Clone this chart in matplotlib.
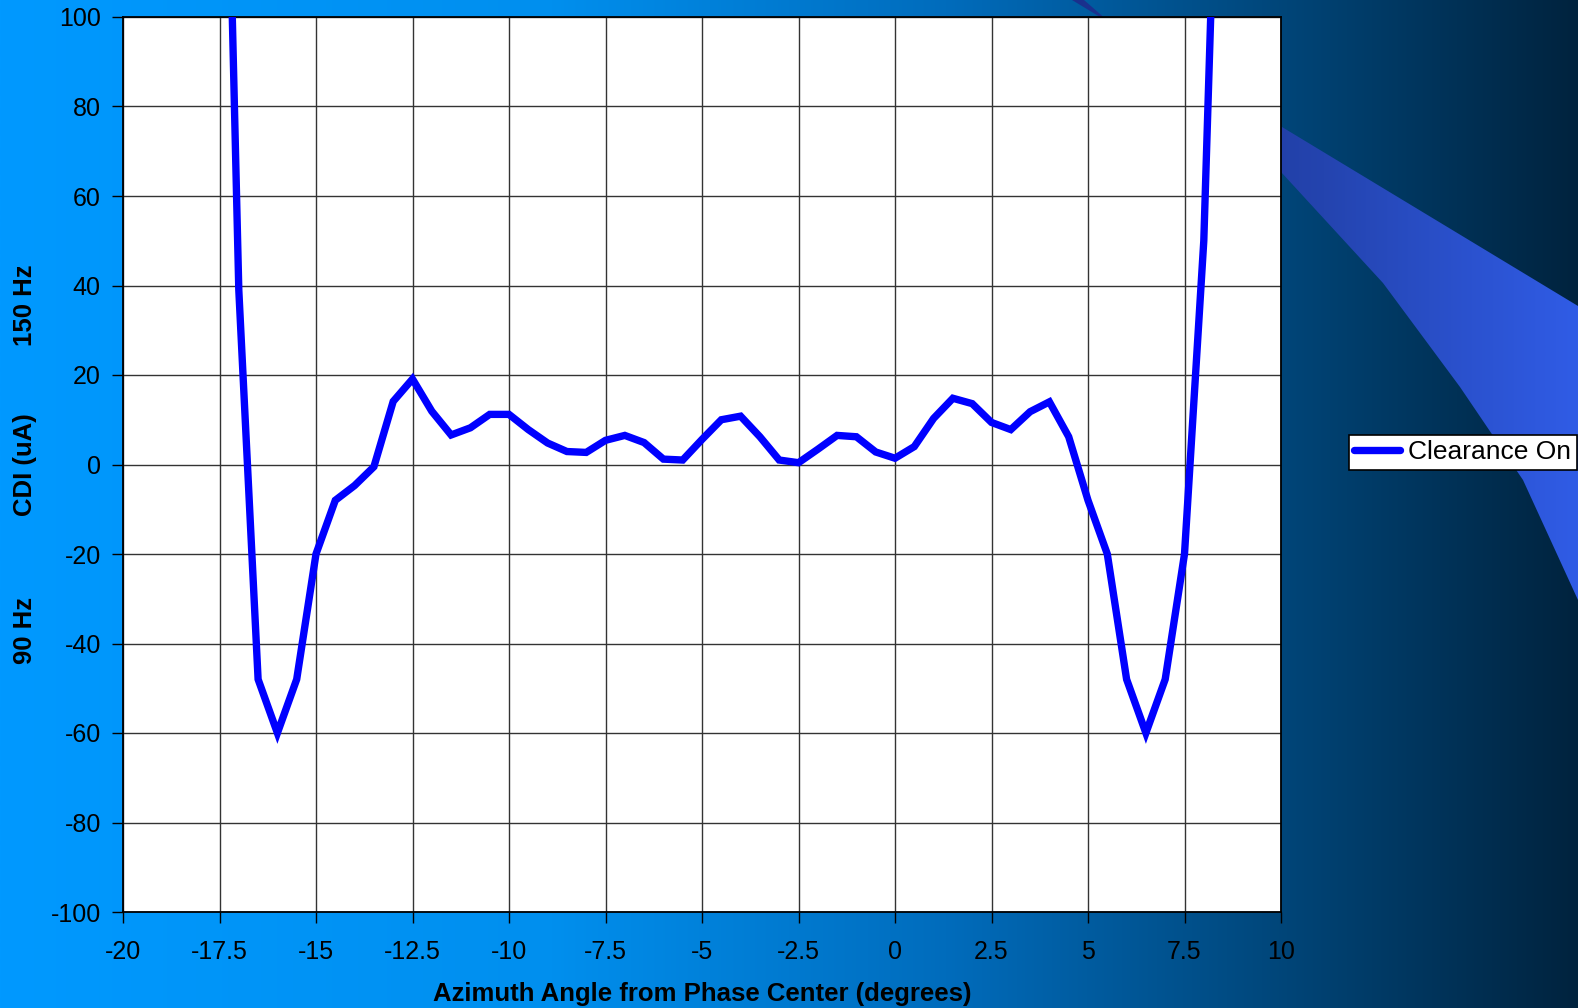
import numpy as np
import matplotlib
matplotlib.use("Agg")
import matplotlib.pyplot as plt
from matplotlib.patches import Polygon

plt.rcParams['font.family'] = ['Liberation Sans', 'DejaVu Sans']
plt.rcParams['axes.unicode_minus'] = False

# Datos (angulo en grados, CDI en uA)
angulo = [-17.5, -17.0, -16.5, -16.0, -15.5, -15.0, -14.5, -14.0, -13.5, -13.0,
          -12.5, -12.0, -11.5, -11.0, -10.5, -10.0, -9.5, -9.0, -8.5, -8.0,
          -7.5, -7.0, -6.5, -6.0, -5.5, -5.0, -4.5, -4.0, -3.5, -3.0,
          -2.5, -2.0, -1.5, -1.0, -0.5, 0.0, 0.5, 1.0, 1.5, 2.0,
          2.5, 3.0, 3.5, 4.0, 4.5, 5.0, 5.5, 6.0, 6.5, 7.0,
          7.5, 8.0, 8.5]
cdi = [220, 39, -48, -60, -48, -20, -8.0, -4.7, -0.5, 14.1,
       19.1, 11.9, 6.6, 8.2, 11.2, 11.2, 7.8, 4.8, 2.9, 2.7,
       5.4, 6.5, 4.9, 1.2, 1.0, 5.6, 10.0, 10.8, 6.2, 1.0,
       0.4, 3.4, 6.5, 6.2, 2.8, 1.4, 4.0, 10.3, 14.8, 13.6,
       9.4, 7.8, 11.8, 14.0, 6.2, -8.0, -20, -48, -60, -48,
       -20, 50, 190]

xticks = [-20, -17.5, -15, -12.5, -10, -7.5, -5, -2.5, 0, 2.5, 5, 7.5, 10]
xticklabels = ['-20', '-17.5', '-15', '-12.5', '-10', '-7.5', '-5', '-2.5', '0', '2.5', '5', '7.5', '10']
yticks = [-100, -80, -60, -40, -20, 0, 20, 40, 60, 80, 100]

W, H = 1578, 1008
fig = plt.figure(figsize=(W / 100, H / 100), dpi=100)

# Fondo con degradado horizontal
bg = fig.add_axes([0, 0, 1, 1], zorder=-5)
bg.set_xlim(0, W)
bg.set_ylim(H, 0)
bg.axis('off')
pos = np.array([0.0, 0.35, 0.6, 0.8, 1.0])
cols = np.array([[0, 153, 255], [0, 143, 238], [0, 108, 188], [0, 72, 125], [0, 35, 62]]) / 255
t = np.linspace(0, 1, 600)
grad = np.stack([np.interp(t, pos, cols[:, k]) for k in range(3)], axis=-1)[None, :, :]
bg.imshow(grad, extent=(0, W, H, 0), aspect='auto', interpolation='bilinear')

# Banda diagonal azul
banda = Polygon([(1072, 0), (1578, 306), (1578, 600), (1523, 480), (1460, 387),
                 (1383, 283), (1281, 172), (1084, 0)], closed=True,
                facecolor='none', edgecolor='none')
bg.add_patch(banda)
cols2 = np.array([[26, 48, 140], [36, 68, 175], [48, 92, 230]]) / 255
t2 = np.linspace(0, 1, 300)
grad2 = np.stack([np.interp(t2, [0, 0.5, 1], cols2[:, k]) for k in range(3)], axis=-1)[None, :, :]
im2 = bg.imshow(grad2, extent=(1070, 1578, H, 0), aspect='auto', interpolation='bilinear')
im2.set_clip_path(banda)

# Grafico principal
ax = fig.add_axes([123 / W, 1 - 912 / H, (1281 - 123) / W, (912 - 17) / H])
ax.set_facecolor('white')
ax.plot(angulo, cdi, color='#0000ff', lw=5.3, solid_joinstyle='miter', label='Clearance On', zorder=3)
ax.set_xlim(-20, 10)
ax.set_ylim(-100, 100)
ax.set_xticks(xticks)
ax.set_xticklabels(xticklabels)
ax.set_yticks(yticks)
ax.grid(True, color='#333333', lw=1.0)
for s in ax.spines.values():
    s.set_color('black')
    s.set_linewidth(1.3)
ax.tick_params(axis='both', direction='out', length=8, width=1, color='black',
               labelsize=18, labelcolor='black')
ax.tick_params(axis='x', pad=12)
ax.tick_params(axis='y', pad=8)

# Etiquetas de los ejes
fig.text(702 / W, 1 - 994 / H, 'Azimuth Angle from Phase Center (degrees)',
         ha='center', va='center', fontsize=18.5, fontweight='bold', color='black')
fig.text(25 / W, 1 - 305 / H, '150 Hz', rotation=90, ha='center', va='center',
         fontsize=18.5, fontweight='bold', color='black')
fig.text(25 / W, 1 - 465 / H, 'CDI (uA)', rotation=90, ha='center', va='center',
         fontsize=18.5, fontweight='bold', color='black')
fig.text(25 / W, 1 - 631 / H, '90 Hz', rotation=90, ha='center', va='center',
         fontsize=18.5, fontweight='bold', color='black')

# Leyenda
leg = fig.legend(loc='upper left', bbox_to_anchor=(1349 / W, 1 - 435 / H),
                 bbox_transform=fig.transFigure, fontsize=19, frameon=True,
                 fancybox=False, edgecolor='black', framealpha=1, borderpad=0.2,
                 borderaxespad=0, handlelength=1.75, handletextpad=0.3)
leg.get_frame().set_linewidth(1.2)
leg.get_lines()[0].set_solid_capstyle('round')

fig.savefig('out.png', dpi=100)
